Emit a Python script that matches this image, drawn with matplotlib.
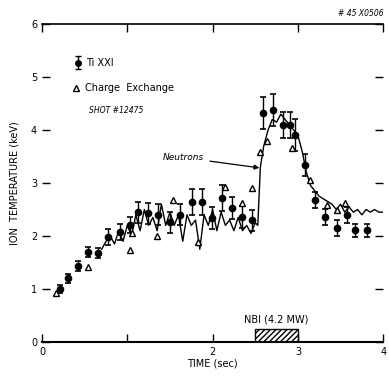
import matplotlib
matplotlib.use('Agg')
import matplotlib.pyplot as plt

# Ti XXI (filled circles, with error bars)
ti_t = [0.21, 0.31, 0.42, 0.54, 0.66, 0.77, 0.91, 1.03, 1.13, 1.24, 1.36, 1.50,
        1.62, 1.76, 1.88, 1.99, 2.11, 2.23, 2.34, 2.46, 2.59, 2.71, 2.83, 2.91,
        2.97, 3.08, 3.20, 3.32, 3.46, 3.58, 3.67, 3.81]
ti_T = [1.00, 1.20, 1.43, 1.70, 1.68, 1.98, 2.08, 2.20, 2.45, 2.43, 2.40, 2.26,
        2.40, 2.64, 2.64, 2.34, 2.72, 2.53, 2.36, 2.30, 4.32, 4.38, 4.10, 4.10,
        3.90, 3.34, 2.68, 2.36, 2.15, 2.40, 2.11, 2.11]
ti_err = [0.08, 0.08, 0.10, 0.10, 0.10, 0.15, 0.15, 0.15, 0.20, 0.20, 0.20, 0.20,
          0.20, 0.25, 0.25, 0.20, 0.25, 0.20, 0.20, 0.20, 0.30, 0.30, 0.25, 0.25,
          0.30, 0.20, 0.15, 0.15, 0.15, 0.15, 0.12, 0.12]

# charge exchange (open triangles)
cx_t = [0.16, 0.54, 1.03, 1.06, 1.35, 1.54, 1.83, 2.15, 2.34, 2.46, 2.56, 2.64,
        2.93, 3.14, 3.34, 3.46, 3.55]
cx_T = [0.92, 1.42, 1.74, 2.05, 2.00, 2.68, 1.89, 2.93, 2.62, 2.90, 3.58, 3.80,
        3.66, 3.05, 2.58, 2.49, 2.62]

# neutron-derived ion temperature (line)
nt_t = [0.70, 0.75, 0.80, 0.85, 0.90, 0.95, 1.00, 1.05, 1.10, 1.15, 1.20, 1.25,
        1.30, 1.35, 1.40, 1.45, 1.50, 1.55, 1.60, 1.65, 1.70, 1.75, 1.80, 1.85,
        1.90, 1.95, 2.00, 2.05, 2.10, 2.15, 2.20, 2.25, 2.30, 2.35, 2.40, 2.45,
        2.50, 2.53, 2.56, 2.60, 2.65, 2.70, 2.75, 2.80, 2.85, 2.90, 2.95, 3.00,
        3.05, 3.10, 3.15, 3.20, 3.25, 3.30, 3.35, 3.40, 3.45, 3.50, 3.55, 3.60,
        3.65, 3.70, 3.75, 3.80, 3.85, 3.90, 3.95, 4.00]
nt_T = [1.75, 1.90, 2.00, 1.85, 2.10, 1.90, 2.20, 2.00, 2.40, 2.10, 2.50, 2.20,
        2.35, 2.10, 2.60, 2.20, 2.45, 2.20, 2.40, 1.90, 2.40, 2.20, 2.30, 1.75,
        2.40, 2.20, 2.50, 2.10, 2.45, 2.20, 2.30, 2.10, 2.35, 2.10, 2.20, 2.05,
        2.25, 2.20, 3.30, 3.70, 4.00, 4.20, 4.15, 4.30, 4.20, 4.10, 4.00, 3.90,
        3.60, 3.20, 2.95, 2.85, 2.75, 2.70, 2.65, 2.60, 2.50, 2.60, 2.45, 2.55,
        2.45, 2.50, 2.40, 2.50, 2.45, 2.50, 2.45, 2.45]

nbi_start, nbi_end, nbi_h = 2.5, 3.0, 0.24

fig = plt.figure(figsize=(3.89, 3.77), dpi=100)
ax = fig.add_axes([0.108, 0.093, 0.877, 0.843])

ax.plot(nt_t, nt_T, color='black', lw=1.0)
ax.errorbar(ti_t, ti_T, yerr=ti_err, fmt='o', color='black', ms=4.5,
            elinewidth=1.0, capsize=2.5, capthick=1.2)
ax.plot(cx_t, cx_T, '^', mfc='white', mec='black', ms=4, mew=1.0)

# NBI pulse
ax.bar((nbi_start + nbi_end) / 2, nbi_h, width=nbi_end - nbi_start,
       color='white', edgecolor='black', hatch='//////', lw=1.0)
ax.text((nbi_start + nbi_end) / 2, 0.33, 'NBI (4.2 MW)', ha='center',
        va='bottom', fontsize=7)

# legend drawn by hand
ax.errorbar([0.42], [5.27], yerr=[0.12], fmt='o', color='black', ms=4,
            capsize=2, elinewidth=1.0)
ax.text(0.52, 5.27, 'Ti XXI', fontsize=7, va='center')
ax.plot([0.40], [4.79], '^', mfc='white', mec='black', ms=4)
ax.text(0.50, 4.79, 'Charge  Exchange', fontsize=7, va='center')
ax.text(0.55, 4.37, 'SHOT #12475', fontsize=5.5, style='italic', va='center')

ax.annotate('Neutrons', xy=(2.58, 3.28), xytext=(1.42, 3.48),
            fontsize=6.5, style='italic', va='center',
            arrowprops=dict(arrowstyle='-|>', color='black', lw=0.9,
                            mutation_scale=7))

fig.text(0.985, 0.963, '# 45 X0506', fontsize=5.5, style='italic',
         ha='right', va='center')

ax.set_xlim(0, 4)
ax.set_ylim(0, 6)
ax.set_xticks([0, 1, 2, 3, 4])
ax.set_xticklabels(['0', '', '2', '3', '4'])
ax.set_yticks([0, 1, 2, 3, 4, 5, 6])
ax.tick_params(direction='in', length=6, width=1.0, labelsize=7,
               top=True, right=True)
ax.spines['left'].set_visible(False)
ax.spines['right'].set_visible(False)
ax.spines['top'].set_linewidth(1.2)
ax.spines['bottom'].set_linewidth(1.5)

ax.set_xlabel('TIME (sec)', fontsize=7, labelpad=1)
ax.set_ylabel('ION  TEMPERATURE (keV)', fontsize=7, labelpad=8)

fig.savefig('out.png', dpi=100)
